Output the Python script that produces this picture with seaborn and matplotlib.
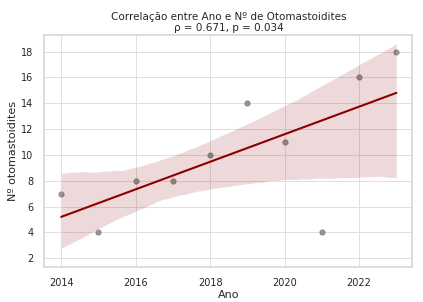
import matplotlib
matplotlib.use("Agg")
import matplotlib.pyplot as plt
import seaborn as sns
import numpy as np
import pandas as pd

anos = [2014, 2015, 2016, 2017, 2018, 2019, 2020, 2021, 2022, 2023]
casos = [7, 4, 8, 8, 10, 14, 11, 4, 16, 18]
titulo = "Correlação entre Ano e Nº de Otomastoidites\nρ = 0.671, p = 0.034"

sns.set_theme(style="whitegrid", rc={"grid.color": "#e0e0e0", "grid.linewidth": 0.7})
plt.rcParams['font.family'] = ['DejaVu Sans']

df = pd.DataFrame({"Ano": anos, "Casos": casos})
fig, ax = plt.subplots(figsize=(4.23, 3.02), dpi=100)
sns.regplot(data=df, x="Ano", y="Casos", ax=ax, seed=42,
            scatter_kws={"color": "grey", "s": 12},
            line_kws={"color": "darkred", "lw": 1.5},
            color="darkred")
ax.set_title(titulo, fontsize=7.5, pad=3, linespacing=1.1)
ax.set_xlabel("Ano", fontsize=8, labelpad=1)
ax.set_ylabel("Nº otomastoidites", fontsize=8, labelpad=2)
ax.tick_params(labelsize=7, pad=2)
ax.set_xticks([2014, 2016, 2018, 2020, 2022])
ax.set_yticks([2, 4, 6, 8, 10, 12, 14, 16, 18])
ax.set_xlim(2013.55, 2023.43)
ax.set_ylim(1.3, 19.3)
for s in ax.spines.values():
    s.set_color("#d8d8d8")
fig.subplots_adjust(left=0.105, right=0.975, top=0.885, bottom=0.115)
fig.savefig("out.png", dpi=100)
